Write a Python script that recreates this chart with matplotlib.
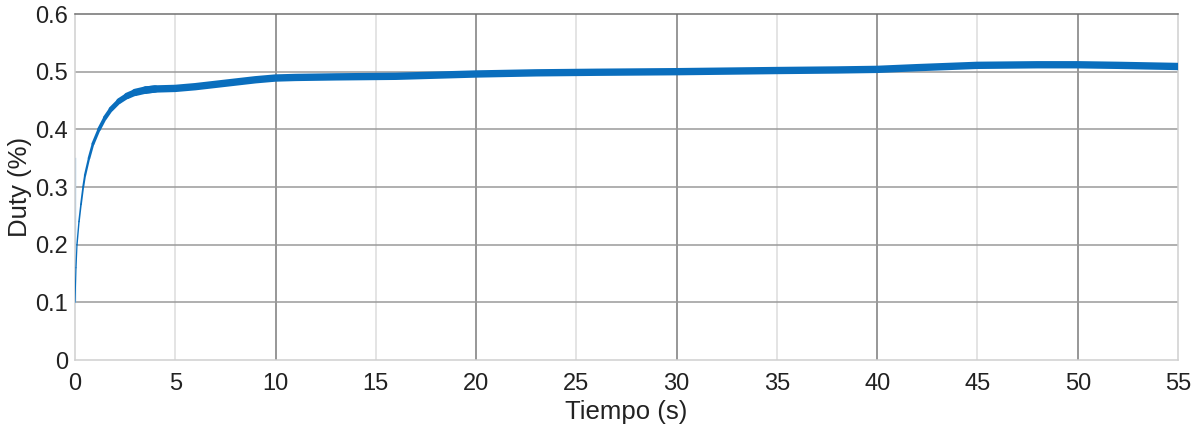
import numpy as np
import matplotlib.pyplot as plt
from matplotlib.collections import LineCollection

plt.rcParams['font.family'] = ['Liberation Sans', 'DejaVu Sans']

# duty cycle response
tiempo = [0, 0.05, 0.1, 0.2, 0.3, 0.41, 0.5, 0.7, 0.9, 1.2, 1.5, 1.8, 2.2, 2.6, 3.0,
          3.5, 4.0, 5.0, 6.0, 7.0, 8.0, 9.0, 10.0, 11.0, 13.0, 16.0, 20.0, 23.0,
          26.0, 30.0, 35.0, 38.0, 40.0, 42.0, 45.0, 48.0, 50.0, 52.0, 55.0]
duty = [0.10, 0.16, 0.20, 0.24, 0.27, 0.30, 0.32, 0.35, 0.375, 0.40, 0.42, 0.435,
        0.449, 0.458, 0.464, 0.468, 0.470, 0.471, 0.474, 0.478, 0.482, 0.486, 0.489,
        0.490, 0.491, 0.492, 0.496, 0.498, 0.499, 0.500, 0.502, 0.503, 0.504, 0.507,
        0.511, 0.512, 0.512, 0.511, 0.509]

# initial spike at t=0
spike_t = [0.0, 0.0]
spike_d = [0.10, 0.35]

x_ticks = list(range(0, 60, 5))
y_ticks = [0, 0.1, 0.2, 0.3, 0.4, 0.5, 0.6]

fig = plt.figure(figsize=(11.92, 4.34), dpi=100)
ax = fig.add_axes([0.0629, 0.1705, 0.9254, 0.7972])

# grid: light at odd multiples of 5, darker at multiples of 10
for xv in x_ticks[1:-1]:
    c = '#7a7a7a' if xv % 10 == 0 else '#dcdcdc'
    ax.axvline(xv, color=c, lw=1.1, zorder=0)
for yv in y_ticks[1:-1]:
    ax.axhline(yv, color='#9a9a9a', lw=1.1, zorder=0)

# band gets thicker as the ripple builds up during the rise
t = np.array(tiempo)
d = np.array(duty)
k = 16  # index where the band reaches full thickness
pts = np.column_stack([t[:k + 1], d[:k + 1]]).reshape(-1, 1, 2)
segs = np.concatenate([pts[:-1], pts[1:]], axis=1)
mid = (t[:k] + t[1:k + 1]) / 2
widths = np.clip(0.8 + mid * 1.4, 0.8, 5.3)
lc = LineCollection(segs, colors='#0a6ebd', linewidths=widths, capstyle='round', zorder=3)
ax.add_collection(lc)
ax.plot(t[k - 1:], d[k - 1:], color='#0a6ebd', lw=5.3, solid_joinstyle='round',
        solid_capstyle='butt', zorder=3)
ax.plot(spike_t, spike_d, color='#9cc7ea', lw=1.0, zorder=2)

ax.set_xlim(0, 55)
ax.set_ylim(0, 0.6)
ax.set_xticks(x_ticks)
ax.set_yticks(y_ticks)
ax.set_xticklabels([str(v) for v in x_ticks])
ax.set_yticklabels(['0', '0.1', '0.2', '0.3', '0.4', '0.5', '0.6'])
ax.tick_params(length=0, labelsize=17, colors='#222222')
ax.tick_params(axis='x', pad=9)
ax.tick_params(axis='y', pad=5)

for side in ['left', 'bottom', 'right']:
    ax.spines[side].set_color('#d0d0d0')
ax.spines['top'].set_color('#707070')
for sp in ax.spines.values():
    sp.set_linewidth(1.1)

ax.set_xlabel('Tiempo (s)', fontsize=18.5, color='#222222', labelpad=4)
ax.set_ylabel('Duty (%)', fontsize=18.5, color='#222222', labelpad=2)

fig.savefig('out.png', dpi=100)
